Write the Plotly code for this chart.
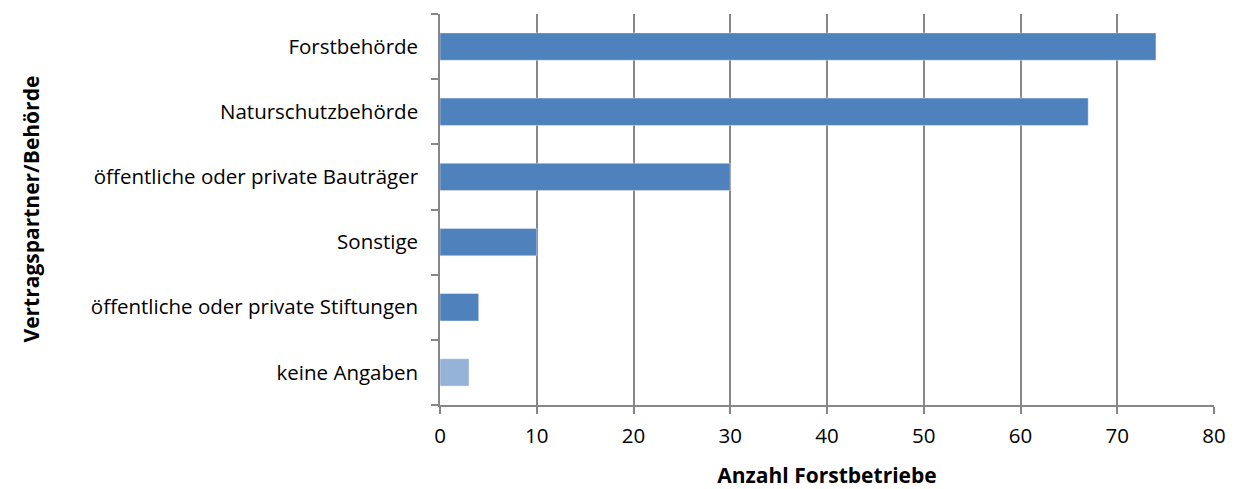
import plotly.graph_objects as go

kategorien = [
    "Forstbehörde",
    "Naturschutzbehörde",
    "öffentliche oder private Bauträger",
    "Sonstige",
    "öffentliche oder private Stiftungen",
    "keine Angaben",
]
anzahl = [74, 67, 30, 10, 4, 3]
farben = ["#4F81BD", "#4F81BD", "#4F81BD", "#4F81BD", "#4F81BD", "#95B3D7"]

fig = go.Figure(go.Bar(
    y=kategorien,
    x=anzahl,
    orientation="h",
    marker=dict(color=farben, line=dict(color="rgba(255,255,255,0.4)", width=1)),
    width=0.42,
))

# die Seite hat 8px Rand -> Figur etwas kleiner, Plotfläche landet bei 440..1214 x 14..405
fig.update_layout(
    plot_bgcolor="white",
    paper_bgcolor="white",
    width=1228,
    height=481,
    margin=dict(l=432, r=22, t=6, b=84, autoexpand=False),
    font=dict(family="Open Sans, sans-serif", size=20.5, color="black"),
    showlegend=False,
    xaxis=dict(
        range=[0, 80],
        dtick=10,
        automargin=False,
        showgrid=True,
        gridcolor="#878787",
        gridwidth=1.5,
        zeroline=False,
        showline=True,
        linecolor="#878787",
        linewidth=1.5,
        ticks="outside",
        ticklen=7,
        tickcolor="#878787",
        tickwidth=1.5,
        ticklabelstandoff=5,
        title=dict(text="<b>Anzahl Forstbetriebe</b>", font=dict(size=21), standoff=20),
    ),
    yaxis=dict(
        categoryorder="array",
        categoryarray=kategorien[::-1],
        automargin=False,
        showgrid=False,
        showline=True,
        linecolor="#878787",
        linewidth=1.5,
        ticks="outside",
        tickson="boundaries",
        ticklen=7,
        tickcolor="#878787",
        tickwidth=1.5,
        ticklabelstandoff=16,
    ),
    annotations=[dict(
        text="<b>Vertragspartner/Behörde</b>",
        xref="paper", yref="paper",
        x=(22 - 432) / 774, y=0.5,
        xanchor="center", yanchor="middle",
        textangle=-90, showarrow=False,
        font=dict(size=21),
    )],
)

fig.write_html("out.html")
